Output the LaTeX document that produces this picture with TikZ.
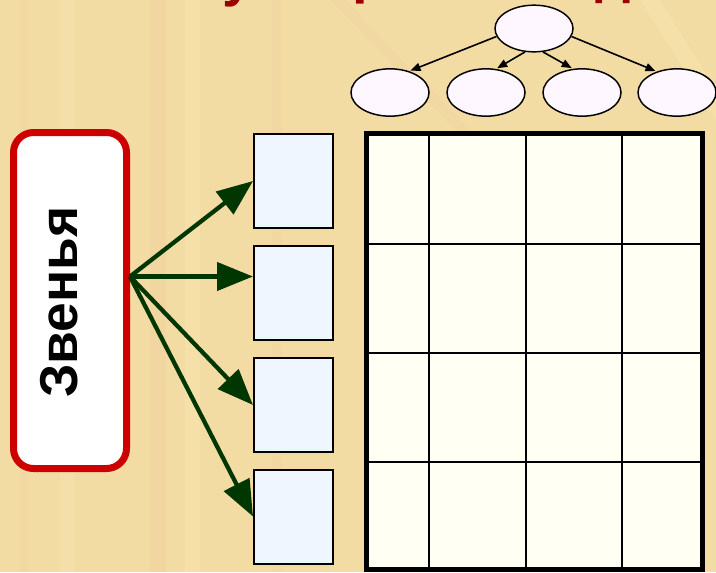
\documentclass[tikz,border=0pt]{standalone}
\usepackage{fontspec}
\setmainfont{Liberation Sans}
\usetikzlibrary{shapes.geometric,arrows.meta,calc}
\definecolor{bg}{HTML}{F3DCA4}
\definecolor{streakpink}{HTML}{E9B49A}
\definecolor{streaklight}{HTML}{F9E8B8}
\definecolor{ellfill}{HTML}{FFF7FF}
\definecolor{slotfill}{HTML}{EFF6FF}
\definecolor{gridfill}{HTML}{FFFFF4}
\definecolor{arrowgreen}{HTML}{003600}
\definecolor{boxred}{HTML}{CC0000}
\definecolor{titlered}{HTML}{9A0000}
\tikzset{
  ell/.style={ellipse, draw=black, line width=1.1pt, fill=ellfill, minimum width=58.5pt, minimum height=35pt, inner sep=0pt},
  tarrow/.style={line width=1.2pt, -{Triangle[length=7.5pt,width=6pt]}, shorten >=1pt},
  slot/.style={rectangle, draw=black, line width=1.5pt, fill=slotfill, minimum width=59.25pt, minimum height=70.5pt, inner sep=0pt},
  garrow/.style={draw=arrowgreen, line width=3.2pt, -{Triangle[length=27pt,width=21pt]}},
  redbox/.style={rectangle, rounded corners=15pt, draw=boxred, line width=5.25pt, fill=white, minimum width=84.75pt, minimum height=252pt, inner sep=0pt},
  zvtext/.style={rotate=90, font=\fontsize{40}{48}\selectfont\bfseries, text=black, inner sep=0pt},
  titlefrag/.style={anchor=base, font=\fontsize{42}{50}\selectfont\bfseries, text=titlered, inner sep=0pt},
  gridouter/.style={draw=black, line width=3.75pt, fill=gridfill},
  gridline/.style={draw=black, line width=1.5pt}
}
\begin{document}
\begin{tikzpicture}[x=0.75pt,y=-0.75pt]
\useasboundingbox (0,0) rectangle (716,572);
% background
\fill[bg] (0,0) rectangle (716,572);
\fill[streakpink, opacity=0.15] (150,0) rectangle (166,572);
\fill[streakpink, opacity=0.12] (272,0) rectangle (282,572);
\fill[streaklight, opacity=0.35] (185,0) rectangle (200,572);
\fill[streaklight, opacity=0.3] (60,0) rectangle (75,572);
\fill[streakpink, opacity=0.1] (20,0) rectangle (28,572);
\fill[streakpink, opacity=0.12] (330,0) -- (345,0) -- (480,140) -- (465,140) -- cycle;
\fill[streaklight, opacity=0.35] (640,0) -- (660,0) -- (716,90) -- (716,120) -- cycle;

% clipped title fragments (only descenders show)
\node[titlefrag] (t1) at (238,-5) {у};
\node[titlefrag] (t2) at (370,-7.5) {р};
\node[titlefrag] (t3) at (613,-7.5) {д};

% hierarchy ellipses
\node[ell] (p) at (534,28.5) {};
\node[ell, minimum height=35.5pt] (c1) at (390,92.5) {};
\node[ell, minimum height=35.5pt] (c2) at (486,92.5) {};
\node[ell, minimum height=35.5pt] (c3) at (582,92.5) {};
\node[ell, minimum height=35.5pt] (c4) at (677,92.5) {};
\draw[tarrow] (p.192) -- (c1.48);
\draw[tarrow] (p.249) -- (c2.67);
\draw[tarrow] (p.291) -- (c3.111);
\draw[tarrow] (p.348) -- (c4.134);

% red box with rotated text
\node[redbox] (zv) at (70,300.5) {};
\node[zvtext] (zvt) at (59,302) {Звенья};

% slots
\node[slot] (r1) at (293.5,181) {};
\node[slot] (r2) at (293.5,293) {};
\node[slot] (r3) at (293.5,405) {};
\node[slot] (r4) at (293.5,516.5) {};

% green arrows
\coordinate (o) at ([yshift=18pt]zv.east);
\draw[garrow] (o) -- (r1.west);
\draw[garrow] (o) -- (o -| r2.west);
\draw[garrow] (o) -- (r3.west);
\draw[garrow] (o) -- (r4.west);

% grid table
\draw[gridouter] (366,133) rectangle (702,569);
\foreach \x in {429,526,622} \draw[gridline] (\x,133) -- (\x,569);
\foreach \y in {244,353,462} \draw[gridline] (366,\y) -- (702,\y);
\draw[draw=black, line width=3.75pt] (366,133) rectangle (702,569);
\end{tikzpicture}
\end{document}
